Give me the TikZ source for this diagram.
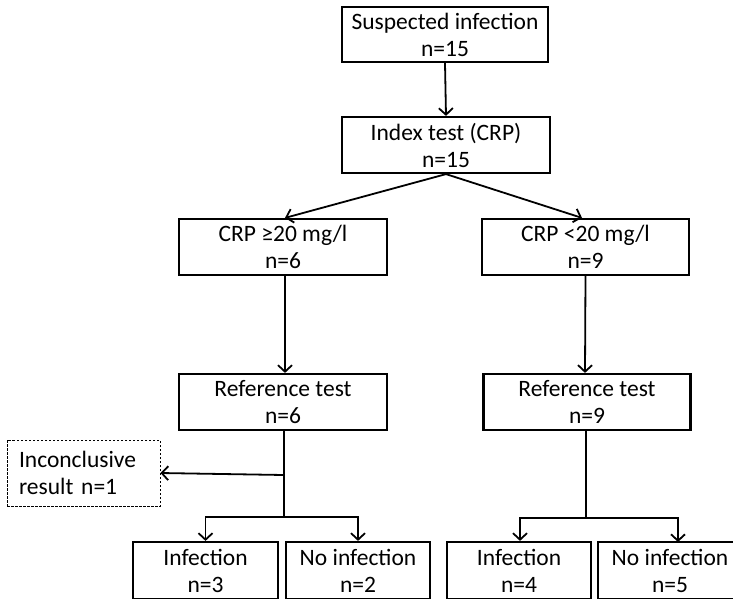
\documentclass[tikz,border=0pt]{standalone}
\usepackage{fontspec}
\setmainfont{Carlito}
\usetikzlibrary{arrows.meta}
\begin{document}
\begin{tikzpicture}[x=1pt,y=-1pt,
  box/.style={draw,line width=2.2pt,align=center,inner sep=0pt,
    font=\fontsize{23.5}{27}\selectfont},
  dbox/.style={draw,dashed,dash pattern=on 2.5pt off 1.5pt,line width=1pt,align=left,inner sep=0pt,
    font=\fontsize{23.5}{27}\selectfont},
  conn/.style={line width=1.8pt},
  arr/.style={conn,-{Straight Barb[length=6.5pt,width=14pt,line width=1.8pt]}}]
\useasboundingbox (0,0) rectangle (733,598);
\clip (0,0) rectangle (733,598);
\node[box,minimum width=206pt,minimum height=55pt] (b1) at (445,34.5) {Suspected infection\\n=15};
\node[box,minimum width=208pt,minimum height=56pt] (b2) at (446,145) {Index test (CRP)\\n=15};
\node[box,minimum width=208pt,minimum height=56pt] (b3l) at (283,247) {CRP ≥20 mg/l\\n=6};
\node[box,minimum width=207pt,minimum height=56pt] (b3r) at (585.5,247) {CRP <20 mg/l\\n=9};
\node[box,minimum width=208pt,minimum height=56pt] (b4l) at (283,402) {Reference test\\n=6};
\node[box,minimum width=207pt,minimum height=56pt] (b4r) at (587,402) {Reference test\\n=9};
\node[dbox,minimum width=153pt,minimum height=66pt,text width=129pt] (inc) at (83.5,473) {Inconclusive\\result n=1};
\node[box,minimum width=145pt,minimum height=57pt] (il) at (205.5,570.5) {Infection\\n=3};
\node[box,minimum width=144pt,minimum height=57pt] (nl) at (358,570.5) {No infection\\n=2};
\node[box,minimum width=144pt,minimum height=57pt] (ir) at (519,570.5) {Infection\\n=4};
\node[box,minimum width=144pt,minimum height=57pt] (nr) at (670,570.5) {No infection\\n=5};
\coordinate (jl) at (284,517);
\coordinate (jr) at (586,518);
\coordinate (ml) at (284,475);
\coordinate (nrt) at (678,542);
\draw[arr] (b1.south) -- (b2.north);
\draw[arr] (b2.south) -- ([xshift=2pt]b3l.north);
\draw[arr] (b2.south) -- ([xshift=-3.5pt]b3r.north);
\draw[arr] ([xshift=2pt]b3l.south) -- ([xshift=2pt]b4l.north);
\draw[arr] (b3r.south) -- ([xshift=-2pt]b4r.north);
\draw[conn] ([xshift=1pt]b4l.south) -- (jl);
\draw[arr] (ml) -- (inc.east);
\draw[arr] (jl) -| (il.north);
\draw[arr] (jl) -| (nl.north);
\draw[conn] ([xshift=-1pt]b4r.south) -- (jr);
\draw[arr] (jr) -| ([xshift=1pt]ir.north);
\draw[arr] (jr) -| (nrt);
\end{tikzpicture}
\end{document}
